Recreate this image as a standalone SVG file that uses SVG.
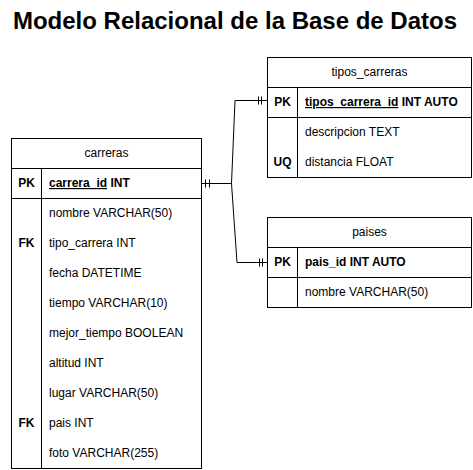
<svg xmlns="http://www.w3.org/2000/svg" width="473" height="470" viewBox="0 0 473 470">
<style>
text{font-family:"Liberation Sans",Arial,sans-serif;font-size:12px;fill:#000}
.title{font-size:24px;font-weight:bold}
.b{font-weight:bold}
.u{text-decoration:underline}
.c{text-anchor:middle}
.box{fill:#fff;stroke:#000;stroke-width:1}
.ln{stroke:#000;stroke-width:1;fill:none}
</style>
<rect width="473" height="470" fill="#fff"/>
<text class="title c" x="235" y="29">Modelo Relacional de la Base de Datos</text>

<g id="connectors">
<polyline class="ln" points="201.5,183.5 231.5,183.5 235,100.5 267.5,100.5"/>
<polyline class="ln" points="231.5,183.5 237,262.5 267.5,262.5"/>
<path class="ln" d="M205.5,179.5v8M209.5,179.5v8M258.5,96.5v8M261.5,96.5v8M259.5,258.5v8M262.5,258.5v8"/>
</g>

<g id="carreras">
<rect class="box" x="11.5" y="138.5" width="190" height="330"/>
<path class="ln" d="M11.5,168.5H201.5M11.5,198.5H201.5M41.5,168.5V468.5"/>
<text class="c" x="106.5" y="157">carreras</text>
<text class="b c" x="26.5" y="187">PK</text>
<text x="49" y="187" class="b"><tspan class="u">carrera_id</tspan> INT</text>
<text x="49" y="217">nombre VARCHAR(50)</text>
<text class="b c" x="26.5" y="247">FK</text>
<text x="49" y="247">tipo_carrera INT</text>
<text x="49" y="277">fecha DATETIME</text>
<text x="49" y="307">tiempo VARCHAR(10)</text>
<text x="49" y="337">mejor_tiempo BOOLEAN</text>
<text x="49" y="367">altitud INT</text>
<text x="49" y="397">lugar VARCHAR(50)</text>
<text class="b c" x="26.5" y="427">FK</text>
<text x="49" y="427">pais INT</text>
<text x="49" y="457">foto VARCHAR(255)</text>
</g>

<g id="tipos_carreras">
<rect class="box" x="267.5" y="57.5" width="204" height="120"/>
<path class="ln" d="M267.5,87.5H471.5M267.5,117.5H471.5M297.5,87.5V177.5"/>
<text class="c" x="369.5" y="76">tipos_carreras</text>
<text class="b c" x="282.5" y="106">PK</text>
<text x="305" y="106" class="b"><tspan class="u">tipos_carrera_id</tspan> INT AUTO</text>
<text x="305" y="136">descripcion TEXT</text>
<text class="b c" x="282.5" y="166">UQ</text>
<text x="305" y="166">distancia FLOAT</text>
</g>

<g id="paises">
<rect class="box" x="267.5" y="217.5" width="204" height="90"/>
<path class="ln" d="M267.5,247.5H471.5M267.5,277.5H471.5M297.5,247.5V307.5"/>
<text class="c" x="369.5" y="236">paises</text>
<text class="b c" x="282.5" y="266">PK</text>
<text x="305" y="266" class="b">pais_id INT AUTO</text>
<text x="305" y="296">nombre VARCHAR(50)</text>
</g>
</svg>
